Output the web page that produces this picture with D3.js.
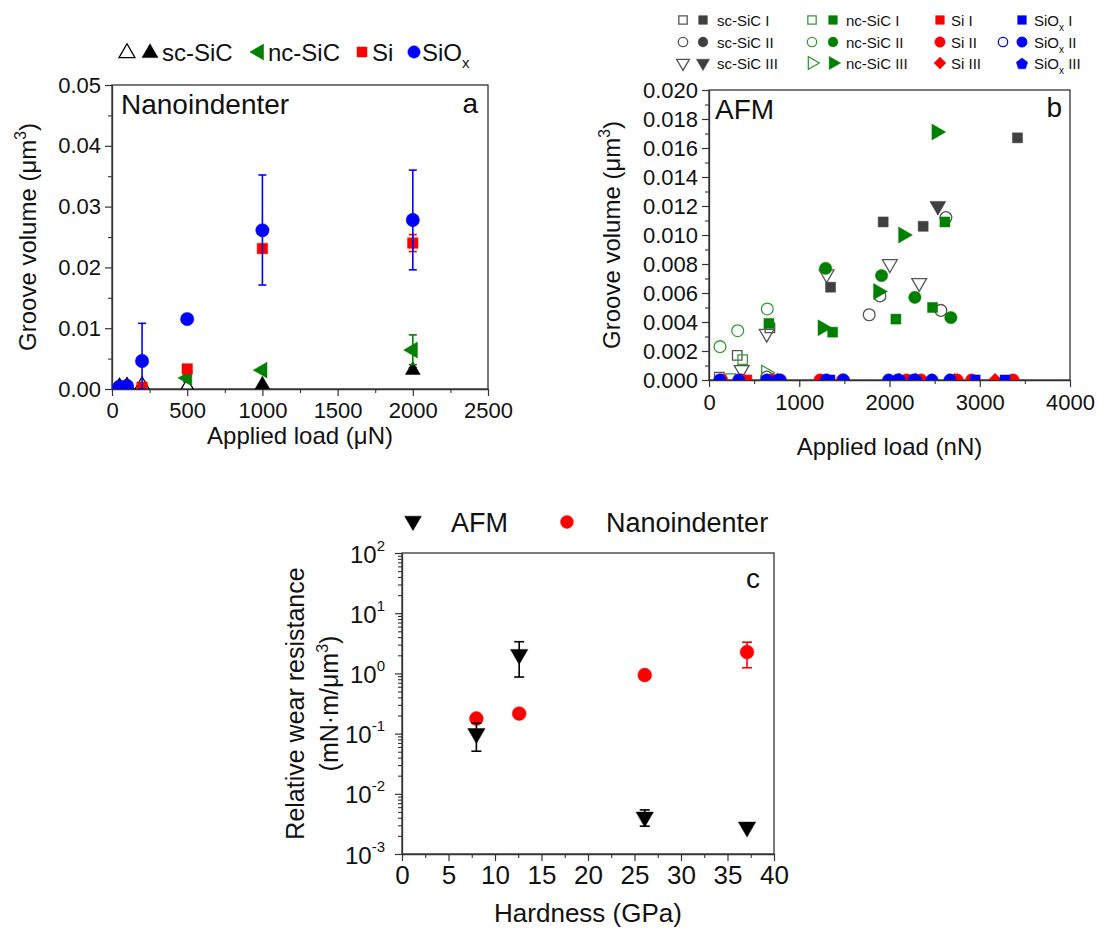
<!DOCTYPE html>
<html>
<head>
<meta charset="utf-8">
<script src="https://cdn.jsdelivr.net/npm/d3@7"></script>
<style>
  html, body { margin: 0; padding: 0; background: #fff; }
  svg { display: block; }
</style>
</head>
<body>
<svg id="fig" width="1106" height="932"></svg>
<script>
// ---------- Panel a: nanoindenter groove volume (µm³) vs applied load (µN) ----------
const aScSiC      = [[50, 0.0005], [100, 0.0006], [1000, 0.0007], [2000, 0.0031]];
const aScSiCOpen  = [[200, 0.0006], [500, 0.0003]];
const aNcSiC      = [[500, 0.0018], [1000, 0.0031], [2000, 0.0064]];
const aNcSiCErr   = [[500, 0.0012, 0.0024], [2000, 0.0040, 0.0089]];
const aSi         = [[50, 0.0002], [100, 0.0002], [200, 0.0003], [500, 0.0033], [1000, 0.0231], [2000, 0.0240]];
const aSiErr      = [[1000, 0.0225, 0.0237], [2000, 0.0226, 0.0254]];
const aSiOx       = [[50, 0.0004], [100, 0.0005], [200, 0.0046], [500, 0.0115], [1000, 0.0261], [2000, 0.0278]];
const aSiOxErr    = [[200, 0.0, 0.0108], [1000, 0.0171, 0.0352], [2000, 0.0196, 0.0360]];
const aScSiCErr   = [[2000, 0.0027, 0.0035]];
const aXTicks     = [0, 500, 1000, 1500, 2000, 2500];
const aYTicks     = [0, 0.01, 0.02, 0.03, 0.04, 0.05];

// ---------- Panel b: AFM groove volume (µm³) vs applied load (nN) ----------
const bScSiCIOpen    = [[114, 0.0002], [313, 0.0017], [675, 0.0036]];
const bScSiCI        = [[1347, 0.0064], [1930, 0.0109], [2373, 0.0106], [3418, 0.0167]];
const bScSiCIIOpen   = [[640, 0.0002], [1775, 0.0045], [1894, 0.0058], [2569, 0.0048], [2625, 0.0112]];
const bScSiCIIIOpen  = [[362, 0.0007], [639, 0.0032], [1303, 0.0073], [2004, 0.0080], [2329, 0.0067]];
const bScSiCIII      = [[2536, 0.0120]];
const bNcSiCIOpen    = [[240, 0.0001], [373, 0.0014]];
const bNcSiCI        = [[664, 0.0039], [1370, 0.0033], [2071, 0.0042], [2477, 0.0050], [2614, 0.0109]];
const bNcSiCIIOpen   = [[122, 0.0023], [318, 0.0034], [646, 0.0049]];
const bNcSiCII       = [[1292, 0.0077], [1912, 0.0072], [2281, 0.0057], [2680, 0.0043]];
const bNcSiCIIIOpen  = [[631, 0.0005]];
const bNcSiCIII      = [[1259, 0.0036], [1875, 0.0061], [2152, 0.0100], [2521, 0.0171]];
const bSiI           = [[420, 0], [2130, 0]];
const bSiII          = [[140, 0], [360, 0], [700, 0], [1230, 0], [1480, 0], [2190, 0], [2350, 0], [2750, 0], [2910, 0], [3370, 0]];
const bSiIII         = [[2720, 0], [3170, 0]];
const bSiOxI         = [[1340, 0], [2950, 0], [3280, 0]];
const bSiOxII        = [[120, 0], [330, 0], [640, 0], [790, 0], [1300, 0], [1490, 0], [1990, 0], [2090, 0], [2270, 0], [2470, 0], [2670, 0]];
const bSiOxIII       = [[760, 0], [2110, 0], [2290, 0]];
const bXTicks        = [0, 1000, 2000, 3000, 4000];
const bYTicks        = [0, 0.002, 0.004, 0.006, 0.008, 0.010, 0.012, 0.014, 0.016, 0.018, 0.020];

// ---------- Panel c: relative wear resistance vs hardness ----------
const cHardness   = [8, 12.6, 26.1, 37.1];
const cAfm        = [0.10, 2.07, 0.0041, 0.0028];
const cAfmLow     = [0.051, 0.87, 0.0029, null];
const cAfmHigh    = [0.15, 3.36, 0.0054, null];
const cNano       = [0.178, 0.215, 0.94, 2.26];
const cNanoLow    = [null, null, 0.84, 1.24];
const cNanoHigh   = [null, null, 1.05, 3.30];
const cXTicks     = [0, 5, 10, 15, 20, 25, 30, 35, 40];
const cYExponents = [-3, -2, -1, 0, 1, 2];

// ---------- styling ----------
const FONT = "'Liberation Sans', Arial, Helvetica, sans-serif";
const AXIS = "#333";
const BLACK = "#000";
const DARK = "#404040";
const GRAY_OPEN = "#555";
const GREEN = "#008000";
const GREEN_OPEN = "#3a9a3a";
const RED = "#ff0000";
const BLUE = "#0000ff";

const svg = d3.select("#fig");
svg.append("rect").attr("width", 1106).attr("height", 932).attr("fill", "#fff");

// regular pentagon symbol for d3.symbol
const symbolPentagon = {
  draw(ctx, size) {
    const r = Math.sqrt(size / 2.3776);
    for (let i = 0; i < 5; i++) {
      const a = -Math.PI / 2 + i * 2 * Math.PI / 5;
      const px = r * Math.cos(a), py = r * Math.sin(a);
      if (i === 0) ctx.moveTo(px, py); else ctx.lineTo(px, py);
    }
    ctx.closePath();
  }
};

const SHAPES = {
  square:   { type: d3.symbolSquare,   rot: 0 },
  circle:   { type: d3.symbolCircle,   rot: 0 },
  up:       { type: d3.symbolTriangle, rot: 0 },
  down:     { type: d3.symbolTriangle, rot: 180 },
  left:     { type: d3.symbolTriangle, rot: -90 },
  right:    { type: d3.symbolTriangle, rot: 90 },
  diamond:  { type: d3.symbolSquare,   rot: 45 },
  pentagon: { type: symbolPentagon,    rot: 0 }
};

// draws one marker at pixel position (px, py)
function marker(g, shape, size, px, py, color, open) {
  const s = SHAPES[shape];
  return g.append("path")
    .attr("d", d3.symbol().type(s.type).size(size)())
    .attr("transform", `translate(${px},${py}) rotate(${s.rot})`)
    .attr("fill", open ? "none" : color)
    .attr("stroke", color)
    .attr("stroke-width", open ? 1.3 : 0.5);
}

function scatter(g, data, x, y, shape, size, color, open) {
  data.forEach(d => marker(g, shape, size, x(d[0]), y(d[1]), color, open));
}

function errorBars(g, data, x, y, color, cap = 5) {
  data.forEach(d => {
    const px = x(d[0]);
    const y0 = y(d[1]), y1 = y(d[2]);
    g.append("line").attr("x1", px).attr("x2", px).attr("y1", y0).attr("y2", y1)
      .attr("stroke", color).attr("stroke-width", 1.6);
    [y0, y1].forEach(yy => g.append("line")
      .attr("x1", px - cap).attr("x2", px + cap).attr("y1", yy).attr("y2", yy)
      .attr("stroke", color).attr("stroke-width", 1.6));
  });
}

function styleAxis(sel, fontSize) {
  sel.select(".domain").attr("stroke", AXIS).attr("stroke-width", 1.3);
  sel.selectAll(".tick line").attr("stroke", AXIS).attr("stroke-width", 1.2);
  sel.selectAll(".tick text").attr("font-family", FONT).attr("font-size", fontSize).attr("fill", "#111");
}

function minorAxis(g, axisGen, transform) {
  const a = g.append("g").attr("transform", transform).call(axisGen);
  a.select(".domain").remove();
  a.selectAll(".tick line").attr("stroke", AXIS).attr("stroke-width", 1.1);
  a.selectAll(".tick text").remove();
}

function frame(g, x0, y0, x1, y1) {
  g.append("rect").attr("x", x0).attr("y", y0).attr("width", x1 - x0).attr("height", y1 - y0)
    .attr("fill", "none").attr("stroke", AXIS).attr("stroke-width", 1.3);
}

function clipFor(id, x0, y0, x1, y1) {
  svg.append("defs").append("clipPath").attr("id", id)
    .append("rect").attr("x", x0).attr("y", y0).attr("width", x1 - x0).attr("height", y1 - y0);
  return `url(#${id})`;
}

function text(g, str, px, py, size, anchor = "start") {
  return g.append("text").attr("x", px).attr("y", py).attr("font-family", FONT)
    .attr("font-size", size).attr("text-anchor", anchor).attr("fill", "#111").text(str);
}

// y-axis title "Groove volume (µm³)"
function grooveLabel(g, cx, cy, size) {
  const t = g.append("text").attr("transform", `translate(${cx},${cy}) rotate(-90)`)
    .attr("font-family", FONT).attr("font-size", size).attr("text-anchor", "middle").attr("fill", "#111");
  t.append("tspan").text("Groove volume (\u03bcm");
  t.append("tspan").attr("font-size", size * 0.65).attr("dy", -size * 0.42).text("3");
  t.append("tspan").attr("dy", size * 0.42).text(")");
}

// ================= Panel a =================
{
  const L = 112, R = 488, T = 85, B = 389;
  const x = d3.scaleLinear().domain([0, 2500]).range([L, R]);
  const y = d3.scaleLinear().domain([0, 0.05]).range([B, T]);
  const g = svg.append("g");

  minorAxis(g, d3.axisBottom(x).tickValues(d3.range(250, 2500, 500)).tickSize(4).tickSizeOuter(0), `translate(0,${B})`);
  minorAxis(g, d3.axisLeft(y).tickValues(d3.range(0.005, 0.05, 0.01)).tickSize(4).tickSizeOuter(0), `translate(${L},0)`);
  const xa = g.append("g").attr("transform", `translate(0,${B})`)
    .call(d3.axisBottom(x).tickValues(aXTicks).tickSize(7).tickSizeOuter(0).tickPadding(6).tickFormat(d3.format("d")));
  styleAxis(xa, 22);
  const ya = g.append("g").attr("transform", `translate(${L},0)`)
    .call(d3.axisLeft(y).tickValues(aYTicks).tickSize(7).tickSizeOuter(0).tickPadding(4).tickFormat(d3.format(".2f")));
  styleAxis(ya, 22);
  frame(g, L, T, R, B);

  const p = g.append("g").attr("clip-path", clipFor("clipA", L, T, R, B));
  scatter(p, aScSiCOpen, x, y, "up", 95, BLACK, true);
  scatter(p, aScSiC, x, y, "up", 95, BLACK, false);
  errorBars(p, aScSiCErr, x, y, BLACK, 4);
  scatter(p, aNcSiC, x, y, "left", 110, GREEN, false);
  errorBars(p, aNcSiCErr, x, y, GREEN, 4);
  scatter(p, aSi, x, y, "square", 110, RED, false);
  errorBars(p, aSiErr, x, y, RED, 4);
  scatter(p, aSiOx, x, y, "circle", 140, BLUE, false);
  errorBars(p, aSiOxErr, x, y, BLUE, 4);

  text(g, "Nanoindenter", 121, 114, 28);
  text(g, "a", 478, 113, 28, "end");
  text(g, "Applied load (\u03bcN)", (L + R) / 2, 444, 24, "middle");
  grooveLabel(g, 36, (T + B) / 2, 24);

  // legend
  const ly = 52;
  marker(g, "up", 110, 127, ly + 1, BLACK, true);
  marker(g, "up", 110, 150, ly + 1, BLACK, false);
  text(g, "sc-SiC", 162, ly + 9, 24);
  marker(g, "left", 110, 259, ly, GREEN, false);
  text(g, "nc-SiC", 268, ly + 9, 24);
  marker(g, "square", 100, 362, ly, RED, false);
  text(g, "Si", 372, ly + 9, 24);
  marker(g, "circle", 120, 414, ly, BLUE, false);
  const st = text(g, "SiO", 422, ly + 9, 24);
  st.append("tspan").attr("font-size", 15).attr("dy", 7).text("x");
}

// ================= Panel b =================
{
  const L = 709, R = 1070, T = 90, B = 380;
  const x = d3.scaleLinear().domain([0, 4000]).range([L, R]);
  const y = d3.scaleLinear().domain([0, 0.020]).range([B, T]);
  const g = svg.append("g");

  minorAxis(g, d3.axisBottom(x).tickValues(d3.range(500, 4000, 1000)).tickSize(4).tickSizeOuter(0), `translate(0,${B})`);
  minorAxis(g, d3.axisLeft(y).tickValues(d3.range(0.001, 0.020, 0.002)).tickSize(4).tickSizeOuter(0), `translate(${L},0)`);
  const xa = g.append("g").attr("transform", `translate(0,${B})`)
    .call(d3.axisBottom(x).tickValues(bXTicks).tickSize(7).tickSizeOuter(0).tickPadding(7).tickFormat(d3.format("d")));
  styleAxis(xa, 22);
  const ya = g.append("g").attr("transform", `translate(${L},0)`)
    .call(d3.axisLeft(y).tickValues(bYTicks).tickSize(7).tickSizeOuter(0).tickPadding(4).tickFormat(d3.format(".3f")));
  styleAxis(ya, 22);
  frame(g, L, T, R, B);

  const p = g.append("g").attr("clip-path", clipFor("clipB", L, T, R, B));
  scatter(p, bScSiCIOpen, x, y, "square", 90, GRAY_OPEN, true);
  scatter(p, bScSiCIIOpen, x, y, "circle", 110, GRAY_OPEN, true);
  scatter(p, bScSiCIIIOpen, x, y, "down", 95, GRAY_OPEN, true);
  scatter(p, bNcSiCIOpen, x, y, "square", 90, GREEN_OPEN, true);
  scatter(p, bNcSiCIIOpen, x, y, "circle", 110, GREEN_OPEN, true);
  scatter(p, bNcSiCIIIOpen, x, y, "right", 95, GREEN_OPEN, true);
  scatter(p, bScSiCI, x, y, "square", 100, DARK, false);
  scatter(p, bScSiCIII, x, y, "down", 110, DARK, false);
  scatter(p, bNcSiCI, x, y, "square", 100, GREEN, false);
  scatter(p, bNcSiCII, x, y, "circle", 120, GREEN, false);
  scatter(p, bNcSiCIII, x, y, "right", 110, GREEN, false);
  scatter(p, bSiI, x, y, "square", 100, RED, false);
  scatter(p, bSiII, x, y, "circle", 120, RED, false);
  scatter(p, bSiIII, x, y, "diamond", 90, RED, false);
  scatter(p, bSiOxI, x, y, "square", 100, BLUE, false);
  scatter(p, bSiOxII, x, y, "circle", 120, BLUE, false);
  scatter(p, bSiOxIII, x, y, "pentagon", 110, BLUE, false);

  text(g, "AFM", 715, 119, 28);
  text(g, "b", 1062, 117, 28, "end");
  text(g, "Applied load (nN)", (L + R) / 2, 455, 24, "middle");
  grooveLabel(g, 620, (T + B) / 2, 24);

  // legend: three rows x four columns
  const rows = [20, 42, 63];
  const fs = 15;
  const lg = g.append("g");
  const open1 = ["square", "circle", "down"];
  const fill1 = ["square", "circle", "down"];
  const open2 = ["square", "circle", "right"];
  const roman = ["I", "II", "III"];
  rows.forEach((ry, i) => {
    marker(lg, open1[i], 70, 683, ry, GRAY_OPEN, true);
    marker(lg, fill1[i], 75, 703, ry, DARK, false);
    text(lg, "sc-SiC " + roman[i], 717, ry + 5.5, fs);
    marker(lg, open2[i], 70, 812, ry, GREEN_OPEN, true);
    marker(lg, open2[i], 75, 833, ry, GREEN, false);
    text(lg, "nc-SiC " + roman[i], 846, ry + 5.5, fs);
  });
  marker(lg, "square", 75, 940, rows[0], RED, false);
  marker(lg, "circle", 85, 940, rows[1], RED, false);
  marker(lg, "diamond", 70, 940, rows[2], RED, false);
  roman.forEach((r, i) => text(lg, "Si " + r, 951, rows[i] + 5.5, fs));
  marker(lg, "square", 75, 1022, rows[0], BLUE, false);
  marker(lg, "circle", 70, 1003, rows[1], BLUE, true);
  marker(lg, "circle", 85, 1022, rows[1], BLUE, false);
  marker(lg, "pentagon", 85, 1022, rows[2] + 1, BLUE, false);
  roman.forEach((r, i) => {
    const t = text(lg, "SiO", 1034, rows[i] + 5.5, fs);
    t.append("tspan").attr("font-size", 10).attr("dy", 5).text("x");
    t.append("tspan").attr("dy", -5).text(" " + r);
  });
}

// ================= Panel c =================
{
  const L = 402, R = 774, T = 553, B = 854;
  const x = d3.scaleLinear().domain([0, 40]).range([L, R]);
  const y = d3.scaleLog().domain([1e-3, 1e2]).range([B, T]);
  const g = svg.append("g");

  const minorY = [];
  for (let e = -3; e < 2; e++) for (let m = 2; m <= 9; m++) minorY.push(m * Math.pow(10, e));
  minorAxis(g, d3.axisBottom(x).tickValues(d3.range(2.5, 40, 5)).tickSize(4).tickSizeOuter(0), `translate(0,${B})`);
  minorAxis(g, d3.axisLeft(y).tickValues(minorY).tickSize(4).tickSizeOuter(0), `translate(${L},0)`);
  const xa = g.append("g").attr("transform", `translate(0,${B})`)
    .call(d3.axisBottom(x).tickValues(cXTicks).tickSize(7).tickSizeOuter(0).tickPadding(5).tickFormat(d3.format("d")));
  styleAxis(xa, 26);
  const ya = g.append("g").attr("transform", `translate(${L},0)`)
    .call(d3.axisLeft(y).tickValues(cYExponents.map(e => Math.pow(10, e))).tickSize(7).tickSizeOuter(0).tickFormat(() => ""));
  styleAxis(ya, 24);
  ya.selectAll(".tick").each(function (d) {
    const t = d3.select(this).append("text").attr("x", -17).attr("y", 9)
      .attr("font-family", FONT).attr("font-size", 24).attr("text-anchor", "end").attr("fill", "#111");
    t.append("tspan").text("10");
    t.append("tspan").attr("font-size", 15).attr("dy", -12).text(String(Math.round(Math.log10(d))));
  });
  frame(g, L, T, R, B);

  const p = g.append("g").attr("clip-path", clipFor("clipC", L, T, R, B));
  // nanoindenter (red circles) with error bars
  cHardness.forEach((h, i) => {
    marker(p, "circle", 150, x(h), y(cNano[i]), RED, false);
  });
  errorBars(p, cHardness.map((h, i) => [h, cNanoLow[i], cNanoHigh[i]]).filter(d => d[1] != null), x, y, RED, 5);
  // AFM (black down-triangles) with error bars
  cHardness.forEach((h, i) => {
    marker(p, "down", 130, x(h), y(cAfm[i]), BLACK, false);
  });
  errorBars(p, cHardness.map((h, i) => [h, cAfmLow[i], cAfmHigh[i]]).filter(d => d[1] != null), x, y, BLACK, 5);

  text(g, "c", 760, 588, 28, "end");
  text(g, "Hardness (GPa)", (L + R) / 2, 922, 26, "middle");
  const yl = g.append("text").attr("transform", `translate(0,${(T + B) / 2}) rotate(-90)`)
    .attr("font-family", FONT).attr("font-size", 25).attr("text-anchor", "middle").attr("fill", "#111");
  yl.append("tspan").attr("x", 0).attr("y", 304).text("Relative wear resistance");
  const l2 = yl.append("tspan").attr("x", 0).attr("y", 338);
  l2.text("(mN\u00b7m/\u03bcm");
  yl.append("tspan").attr("font-size", 16).attr("dy", -10).text("3");
  yl.append("tspan").attr("dy", 10).text(")");

  // legend
  marker(g, "down", 120, 413, 521, BLACK, false);
  text(g, "AFM", 451, 532, 27);
  marker(g, "circle", 130, 567, 522, RED, false);
  text(g, "Nanoindenter", 606, 532, 27);
}
</script>
</body>
</html>
